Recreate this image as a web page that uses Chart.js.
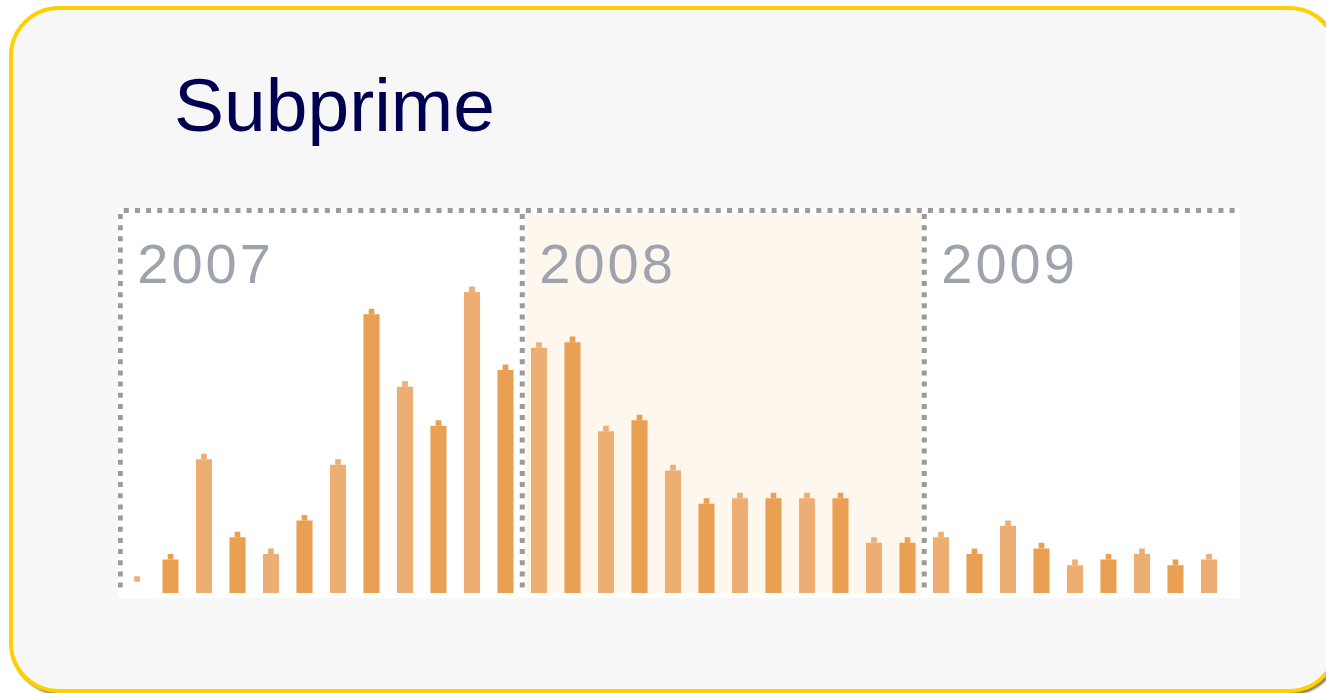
<!DOCTYPE html>
<html>
<head>
<meta charset="utf-8">
<script src="https://cdn.jsdelivr.net/npm/chart.js@4/dist/chart.umd.min.js"></script>
<style>
  html, body { margin: 0; padding: 0; background: #fff; overflow: hidden; }
  body { width: 1326px; height: 693px; position: relative; }
  .card {
    position: absolute; left: 9px; top: 6px; width: 1322px; height: 679px;
    background: #f7f7f7; border: 4px solid #ffd000; border-radius: 50px;
    box-shadow: 2px 2px 2px rgba(110, 85, 0, 0.75);
  }
  .title {
    position: absolute; left: 174px; top: 68px;
    font: 75px/75px "Liberation Sans", Arial, sans-serif; color: #000050;
  }
  #chartWrap { position: absolute; left: 118px; top: 208px; width: 1122px; height: 390px; background: #fff; }
</style>
</head>
<body>
<div class="card"></div>
<div class="title">Subprime</div>
<div id="chartWrap"><canvas id="subprimeChart" width="1122" height="390"></canvas></div>
<script>
// Monthly counts, Jan 2007 .. Sep 2009
const years = ['2007', '2008', '2009'];
const months = ['01','02','03','04','05','06','07','08','09','10','11','12'];
const counts2007 = [2, 6, 24, 10, 7, 13, 23, 50, 37, 30, 54, 40];
const counts2008 = [44, 45, 29, 31, 22, 16, 17, 17, 17, 17, 9, 9];
const counts2009 = [10, 7, 12, 8, 5, 6, 7, 5, 6];
const yMax = 68;

const seriesByYear = [counts2007, counts2008, counts2009];
const labels = [];
const values = [];
seriesByYear.forEach((arr, yi) => {
  arr.forEach((v, mi) => {
    labels.push(years[yi] + '-' + months[mi]);
    values.push(v);
  });
});

const darkOrange = '#e9a052';
const lightOrange = '#ecae72';
const barColors = values.map((v, i) => i % 2 === 0 ? lightOrange : darkOrange);
// first month only shows the marker tick in the source
const bodyColors = barColors.map((c, i) => i === 0 ? 'rgba(0,0,0,0)' : c);

const yearPanels = {
  id: 'yearPanels',
  beforeDatasetsDraw(chart) {
    const ctx = chart.ctx;
    const x = chart.scales.x;
    const area = chart.chartArea;
    const half = (x.getPixelForValue(1) - x.getPixelForValue(0)) / 2;
    const edges = [];
    let idx = 0;
    seriesByYear.forEach(arr => {
      edges.push(x.getPixelForValue(idx) - half);
      idx += arr.length;
    });

    ctx.save();
    // shaded middle year
    ctx.fillStyle = '#fef7ed';
    ctx.fillRect(edges[1] + 2.5, area.top, edges[2] - edges[1] - 5, area.bottom - area.top);

    // dotted separators
    ctx.strokeStyle = '#9b9b9b';
    ctx.lineWidth = 5;
    ctx.setLineDash([5, 6.17]);
    ctx.beginPath();
    ctx.moveTo(edges[0] + 3.5, area.top - 3.5);
    ctx.lineTo(chart.width, area.top - 3.5);
    ctx.stroke();
    edges.forEach(e => {
      ctx.beginPath();
      ctx.moveTo(e, area.top);
      ctx.lineTo(e, area.bottom - 5);
      ctx.stroke();
    });
    ctx.setLineDash([]);

    // year labels
    ctx.fillStyle = '#9ea3ad';
    ctx.font = '56px "Liberation Sans", Arial, sans-serif';
    ctx.letterSpacing = '3px';
    ctx.textAlign = 'left';
    ctx.textBaseline = 'alphabetic';
    years.forEach((y, i) => ctx.fillText(y, edges[i] + 17, area.top + 69));
    ctx.restore();
  }
};

new Chart(document.getElementById('subprimeChart'), {
  type: 'bar',
  data: {
    labels: labels,
    datasets: [
      {
        label: 'count',
        data: values,
        backgroundColor: bodyColors,
        barPercentage: 0.48,
        categoryPercentage: 1,
        grouped: false,
        order: 1
      },
      {
        label: 'marker',
        data: values.map(v => [v, v + 1]),
        backgroundColor: barColors,
        barPercentage: 0.17,
        categoryPercentage: 1,
        grouped: false,
        order: 2
      }
    ]
  },
  options: {
    responsive: false,
    animation: false,
    devicePixelRatio: 1,
    layout: { padding: { left: 2.25, right: 14.25, top: 6, bottom: 5 } },
    plugins: { legend: { display: false }, tooltip: { enabled: false } },
    scales: {
      x: { display: false, grid: { display: false } },
      y: { display: false, min: 0, max: yMax, grid: { display: false } }
    }
  },
  plugins: [yearPanels]
});
</script>
</body>
</html>
